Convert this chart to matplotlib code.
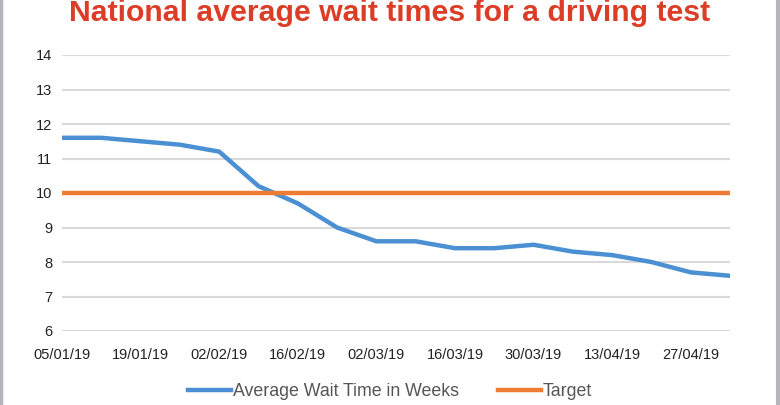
import matplotlib
matplotlib.use("Agg")
import matplotlib.pyplot as plt
from matplotlib.lines import Line2D

# weekly averages
dates = ["05/01/19", "12/01/19", "19/01/19", "26/01/19", "02/02/19", "09/02/19",
         "16/02/19", "23/02/19", "02/03/19", "09/03/19", "16/03/19", "23/03/19",
         "30/03/19", "06/04/19", "13/04/19", "20/04/19", "27/04/19", "04/05/19"]
wait_weeks = [11.6, 11.6, 11.5, 11.4, 11.2, 10.2, 9.7, 9.0, 8.6,
              8.6, 8.4, 8.4, 8.5, 8.3, 8.2, 8.0, 7.7, 7.6]
target = [10] * len(dates)
y_ticks = [6, 7, 8, 9, 10, 11, 12, 13, 14]

plt.rcParams['font.family'] = ['Liberation Sans', 'DejaVu Sans']

W, H = 780, 405
fig = plt.figure(figsize=(W / 100, H / 100), dpi=100)
fig.patch.set_facecolor('white')

# axes box in pixels: x 62..730, y 55..331
ax = fig.add_axes([62 / W, 1 - 331 / H, (730 - 62) / W, (331 - 55) / H])
x = list(range(len(dates)))

ax.plot(x, wait_weeks, color='#4a90d2', linewidth=3.2, solid_capstyle='round',
        solid_joinstyle='round', label='Average Wait Time in Weeks', zorder=3)
ax.plot(x, target, color='#f07b32', linewidth=3.2, solid_capstyle='round',
        label='Target', zorder=3)

ax.set_xlim(0, len(dates) - 1)
ax.set_ylim(6, 14)
ax.set_yticks(y_ticks)
ax.set_yticklabels([str(v) for v in y_ticks])
ax.set_xticks(x[::2])
ax.set_xticklabels(dates[::2])
ax.grid(axis='y', color='#d9d9d9', linewidth=1.5, zorder=0)
ax.set_axisbelow(True)
for s in ax.spines.values():
    s.set_visible(False)
ax.tick_params(axis='both', length=0, labelsize=10.5, colors='#222222')
ax.tick_params(axis='y', pad=7)
ax.tick_params(axis='x', pad=12)

fig.text(0.5, 1 - 21 / H, 'National average wait times for a driving test',
         ha='center', va='baseline', fontsize=21.8, fontweight='bold', color='#dc3d27')

handles = [Line2D([], [], color='#4a90d2', linewidth=3.2),
           Line2D([], [], color='#f07b32', linewidth=3.2)]
fig.legend(handles, ['Average Wait Time in Weeks', 'Target'], loc='center',
           bbox_to_anchor=(0.5, 1 - 392 / H), ncol=2, frameon=False,
           fontsize=12.8, handlelength=2.4, handletextpad=0.1, columnspacing=2.2,
           labelcolor='#555555')

# thin grey border strips at the left and right edges
fig.add_artist(Line2D([1 / W, 1 / W], [0, 1], color='#b4b4bc', linewidth=2.5))
fig.add_artist(Line2D([1 - 2 / W, 1 - 2 / W], [0, 1], color='#b4b4bc', linewidth=3))

fig.savefig('out.png', dpi=100)
